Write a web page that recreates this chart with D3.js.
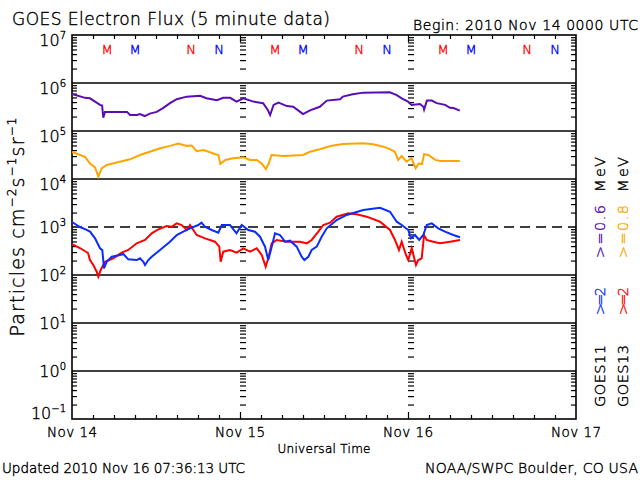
<!DOCTYPE html>
<html><head><meta charset="utf-8">
<script src="https://cdn.jsdelivr.net/npm/d3@7"></script>
<style>body{margin:0;background:#fff}text{font-family:"DejaVu Sans",sans-serif;font-weight:200;stroke-width:0.4px}</style>
</head><body>
<svg id="c" width="640" height="480"></svg>
<script>
// GOES11 >=0.6 MeV (purple)
const g11LowT = [0,1.86,2.57,4.0,4.3,4.47,4.71,7.86,8.29,9.3,9.7,10.4,11.1,12.1,13.0,14.0,14.96,16.4,18.3,19.2,20.7,21.6,22.6,23.5,24.5,25.9,27.3,28.0,28.3,28.8,29.5,30.7,31.6,32.6,33.0,34.0,35.4,36.4,38.3,38.7,40.1,41.6,45.4,46.4,47.1,48.0,48.5,49.7,50.2,50.3,50.7,51.4,52.1,53.3,54.0,54.5,55.4];
const g11LowV = [5.9e5,4.9e5,4.8e5,3.5e5,3.4e5,1.9e5,2.5e5,2.5e5,2.15e5,2.15e5,2.25e5,2.05e5,2.3e5,2.5e5,3.0e5,3.8e5,4.6e5,5.2e5,5.4e5,4.8e5,4.4e5,4.9e5,4.9e5,4.1e5,4.8e5,4.1e5,3.8e5,2.7e5,2.15e5,3.5e5,3.9e5,3.3e5,3.2e5,2.5e5,2.25e5,2.7e5,3.2e5,4.3e5,4.6e5,5.2e5,5.8e5,6.3e5,6.4e5,5.6e5,4.8e5,4.1e5,3.5e5,3.65e5,3.2e5,2.8e5,4.3e5,4.3e5,3.8e5,3.5e5,3.05e5,3.0e5,2.65e5];
// GOES13 >=0.8 MeV (orange)
const g13LowT = [0,1.86,2.57,3.29,3.76,4.24,4.96,6.39,8.29,9.71,11.1,12.6,14.0,15.2,16.4,17.1,17.8,18.8,20.2,20.9,21.2,21.9,23.0,24.5,25.4,26.4,27.1,27.7,28.1,28.5,30.2,33.0,34.0,35.4,36.9,38.7,41.6,43.0,44.5,45.4,46.1,46.6,47.1,47.8,48.5,49.1,49.5,50.0,50.3,50.9,51.9,52.6,55.4];
const g13LowV = [3.65e4,2.9e4,2.1e4,1.75e4,1.12e4,1.67e4,1.96e4,2.2e4,2.57e4,3.16e4,3.7e4,4.36e4,4.9e4,5.5e4,4.9e4,5.0e4,3.8e4,4.0e4,3.4e4,3.16e4,2.05e4,2.5e4,2.7e4,2.83e4,2.5e4,2.5e4,2.1e4,1.6e4,2.1e4,3.16e4,3.0e4,3.16e4,3.7e4,4.16e4,4.87e4,5.36e4,5.54e4,5.3e4,4.7e4,4.2e4,3.7e4,2.5e4,3.0e4,2.3e4,2.7e4,1.67e4,2.1e4,2.05e4,3.3e4,3.16e4,2.5e4,2.37e4,2.37e4];
// GOES11 >=2 MeV (blue)
const g11HiT = [0,1.14,1.86,2.57,3.29,4.0,4.33,4.57,4.96,5.67,6.86,7.33,8.04,9.24,9.71,10.19,10.43,10.9,11.39,12.57,14.0,14.96,15.9,16.86,18.04,18.5,19.0,19.96,20.9,21.4,22.57,23.5,24.24,25.19,26.14,26.86,27.57,28.04,28.53,29.0,29.71,30.43,31.14,32.1,32.81,33.19,33.76,34.24,34.96,35.67,36.39,37.81,39.24,41.61,44.0,45.43,46.39,47.1,48.04,48.43,49.0,49.6,50.19,50.67,51.39,52.33,53.29,54.47,55.43];
const g11HiV = [1270,1000,900,800,580,360,330,138,189,240,261,274,212,205,223,189,162,205,240,332,494,681,798,940,1100,1230,1010,866,761,1100,1100,740,1100,866,798,628,389,205,389,740,681,494,519,389,240,205,240,332,389,628,940,1400,1780,2260,2520,2080,1290,1100,866,580,681,536,681,1100,1190,940,798,681,610];
// GOES13 >=2 MeV (red)
const g13HiT = [0,1.14,2.29,2.57,3.04,3.53,3.76,4.1,4.71,5.9,7.1,8.04,9.24,10.43,11.39,12.33,13.53,14.24,14.96,15.67,16.39,16.86,17.81,19.0,20.43,21.04,21.24,21.61,22.57,23.53,24.47,25.43,26.39,27.1,27.67,28.04,28.53,29.24,30.67,32.57,33.53,34.24,35.19,35.9,36.86,37.81,39.47,40.67,42.1,44.0,45.43,46.14,46.71,47.1,47.71,48.04,48.53,49.14,49.47,49.96,50.29,50.67,51.61,52.57,54.0,55.43];
const g13HiV = [442,365,287,205,162,117,92,127,189,223,292,332,457,536,740,896,1050,1010,1190,1100,866,1100,681,580,494,389,189,306,332,292,360,306,360,261,149,223,457,536,494,494,457,536,798,1100,1230,1640,1930,1840,1640,1290,866,536,332,494,261,205,360,162,205,223,681,536,494,457,494,536];

const dayLabels = ["Nov 14","Nov 15","Nov 16","Nov 17"];
const decadeExps = [-1,0,1,2,3,4,5,6,7];
const markerHours = [5,9,17,21];
const markerLetters = ["M","M","N","N"];
const markerColors = ["#ff0000","#0000ff","#ff0000","#0000ff"];

const svg = d3.select("#c");
const t0 = Date.UTC(2010,10,14);
const t = h => new Date(t0 + h*3600e3);
const x = d3.scaleUtc().domain([t(0), t(72)]).range([72,576]);
const y = d3.scaleLog().domain([0.1,1e7]).range([419,35]);

const minor = [];
for (let e=-1;e<7;e++) for (let k=2;k<10;k++) minor.push(k*Math.pow(10,e));

// decade lines
decadeExps.filter(e=>e>-1 && e<7).forEach(e=>{
  svg.append("line").attr("x1",x(t(0))).attr("x2",x(t(72)))
    .attr("y1",y(Math.pow(10,e))).attr("y2",y(Math.pow(10,e)))
    .attr("stroke","#000").attr("stroke-width",1.6)
    .attr("stroke-dasharray", e===3 ? "10,6" : null);
});

function noDomain(g){ g.select(".domain").remove(); g.selectAll("line").attr("stroke","#000").attr("stroke-width",1.2); }

// left / right minor ticks
svg.append("g").attr("transform",`translate(${x(t(0))},0)`).call(d3.axisRight(y).tickValues(minor).tickSize(5).tickFormat("")).call(noDomain);
svg.append("g").attr("transform",`translate(${x(t(72))},0)`).call(d3.axisLeft(y).tickValues(minor).tickSize(5).tickFormat("")).call(noDomain);
// day boundary columns
[24,48].forEach(h=>{
  svg.append("g").attr("transform",`translate(${x(t(h))},0)`).call(d3.axisRight(y).tickValues(minor).tickSize(6).tickFormat("")).call(noDomain);
});
// top / bottom time ticks
const hourTicks = d3.range(3,72,3).filter(h=>h%24!==0).map(t);
const dayTicks = [24,48].map(t);
svg.append("g").attr("transform","translate(0,35)").call(d3.axisBottom(x).tickValues(hourTicks).tickSize(4).tickFormat("")).call(noDomain);
svg.append("g").attr("transform","translate(0,419)").call(d3.axisTop(x).tickValues(hourTicks).tickSize(4).tickFormat("")).call(noDomain);
svg.append("g").attr("transform","translate(0,35)").call(d3.axisBottom(x).tickValues(dayTicks).tickSize(7).tickFormat("")).call(noDomain);
svg.append("g").attr("transform","translate(0,419)").call(d3.axisTop(x).tickValues(dayTicks).tickSize(7).tickFormat("")).call(noDomain);

// frame
svg.append("rect").attr("x",x(t(0))).attr("y",y(1e7)).attr("width",x(t(72))-x(t(0))).attr("height",y(0.1)-y(1e7))
  .attr("fill","none").attr("stroke","#000").attr("stroke-width",1.6);

// series
const line = d3.line().x(d=>x(t(d[0]))).y(d=>y(d[1]));
const series = [
  [g13LowT,g13LowV,"#ffa500"],
  [g11LowT,g11LowV,"#5a0db4"],
  [g13HiT,g13HiV,"#ff0000"],
  [g11HiT,g11HiV,"#0a2cff"]
];
series.forEach(([T,V,c])=>{
  svg.append("path").datum(T.map((h,i)=>[h,V[i]])).attr("d",line)
    .attr("fill","none").attr("stroke",c).attr("stroke-width",2).attr("stroke-linejoin","miter");
});

function txt(sel, fill){ return sel.attr("fill",fill).attr("stroke",fill); }

// markers
[0,1,2].forEach(d=>{
  markerHours.forEach((h,i)=>{
    txt(svg.append("text"),markerColors[i]).attr("x",x(t(d*24+h))).attr("y",54).attr("text-anchor","middle")
      .attr("font-size",13).text(markerLetters[i]);
  });
});

// y labels
decadeExps.forEach(e=>{
  const base = y(Math.pow(10,e));
  const yy = e===-1 ? 419 : base + (e>=4 ? 11 : 6);
  const tx = txt(svg.append("text"),"#000").attr("x",66).attr("y",yy).attr("text-anchor","end").attr("font-size",16);
  tx.append("tspan").text("10");
  tx.append("tspan").attr("dy",-7).attr("font-size",10).text(e<0?"\u2212"+(-e):String(e));
});

// y title
const yt = txt(svg.append("text"),"#000").attr("transform","translate(24,227) rotate(-90)").attr("text-anchor","middle")
  .attr("font-size",19).attr("textLength",219).attr("lengthAdjust","spacing");
yt.append("tspan").text("Particles cm");
yt.append("tspan").attr("dy",-8).attr("font-size",12).text("\u22122");
yt.append("tspan").attr("dy",8).text("s");
yt.append("tspan").attr("dy",-8).attr("font-size",12).text("\u22121");
yt.append("tspan").attr("dy",8).text("sr");
yt.append("tspan").attr("dy",-8).attr("font-size",12).text("\u22121");

// x labels
dayLabels.forEach((lab,i)=>{
  txt(svg.append("text"),"#000").attr("x",x(t(i*24))).attr("y",437).attr("text-anchor","middle").attr("font-size",13.5)
    .attr("textLength",50).attr("lengthAdjust","spacing").text(lab);
});
txt(svg.append("text"),"#000").attr("x",324).attr("y",453).attr("text-anchor","middle").attr("font-size",12)
  .attr("textLength",93).attr("lengthAdjust","spacing").text("Universal Time");

// titles
txt(svg.append("text"),"#000").attr("x",12).attr("y",25).attr("font-size",17)
  .attr("textLength",318).attr("lengthAdjust","spacing").text("GOES Electron Flux (5 minute data)");
txt(svg.append("text"),"#000").attr("x",413).attr("y",30).attr("font-size",14)
  .attr("textLength",225).attr("lengthAdjust","spacing").text("Begin: 2010 Nov 14 0000 UTC");
txt(svg.append("text"),"#000").attr("x",2).attr("y",473).attr("font-size",13.5)
  .attr("textLength",243).attr("lengthAdjust","spacing").text("Updated 2010 Nov 16 07:36:13 UTC");
txt(svg.append("text"),"#000").attr("x",425).attr("y",473).attr("font-size",14)
  .attr("textLength",213).attr("lengthAdjust","spacing").text("NOAA/SWPC Boulder, CO USA");

// legend (rotated)
const legendCols = [
  {x:605, items:[["GOES11","#000",0,62],[">=2","#0a2cff",92,28],[">=0.6","#5a0db4",149,53],["MeV","#000",215,35]]},
  {x:628, items:[["GOES13","#000",0,62],[">=2","#ff0000",92,28],[">=0.8","#ffa500",149,53],["MeV","#000",215,35]]}
];
legendCols.forEach(col=>{
  const g = svg.append("g").attr("transform",`translate(${col.x},407) rotate(-90)`);
  col.items.forEach(([s,c,off,len])=>{
    txt(g.append("text"),c).attr("x",off).attr("y",0).attr("font-size",14.5)
      .attr("textLength",len).attr("lengthAdjust","spacing").text(s);
  });
});
</script>
</body></html>
